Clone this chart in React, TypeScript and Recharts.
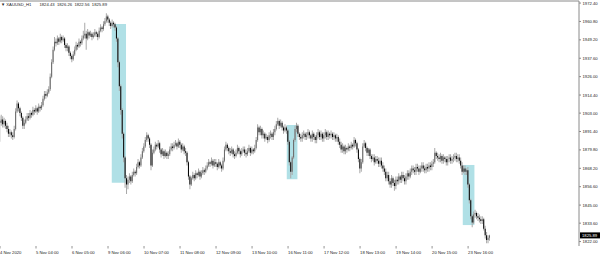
import { ComposedChart, Bar, XAxis, YAxis, Cell, ReferenceArea, ReferenceLine } from 'recharts';

const symbol = 'XAUUSD_H1';

// hourly closes, one per bar (open = previous close)
const firstOpen = 1898;
const closes = [
  1897, 1899, 1896, 1898, 1895, 1893, 1890, 1891, 1889, 1888,
  1893, 1904, 1909, 1906, 1903, 1900, 1895, 1897, 1899, 1901,
  1900, 1903, 1902, 1905, 1904, 1906, 1904, 1907, 1906, 1908,
  1912, 1915, 1914, 1916, 1918, 1926, 1935, 1943, 1948, 1947,
  1950, 1948, 1951, 1949, 1950, 1946, 1944, 1945, 1941, 1939,
  1937, 1940, 1943, 1946, 1945, 1948, 1947, 1950, 1952, 1953,
  1950, 1954, 1952, 1953, 1951, 1952, 1954, 1953, 1951, 1955,
  1957, 1956, 1959, 1961, 1964, 1962, 1960, 1958, 1960, 1959,
  1957, 1950, 1935, 1920, 1905, 1890, 1875, 1862, 1858, 1861,
  1863, 1860, 1864, 1866, 1865, 1869, 1872, 1870, 1875, 1879,
  1882, 1886, 1889, 1887, 1883, 1870, 1878, 1880, 1883, 1882,
  1884, 1880, 1877, 1879, 1876, 1878, 1876, 1877, 1880, 1882,
  1881, 1883, 1884, 1882, 1885, 1883, 1880, 1882, 1879, 1878,
  1872, 1863, 1858, 1862, 1864, 1862, 1865, 1864, 1866, 1863,
  1865, 1867, 1866, 1868, 1870, 1872, 1871, 1873, 1870, 1872,
  1871, 1869, 1872, 1870, 1868, 1873, 1880, 1883, 1881, 1879,
  1878, 1880, 1877, 1876, 1878, 1881, 1879, 1877, 1879, 1880,
  1878, 1877, 1879, 1881, 1878, 1880, 1879, 1881, 1886, 1894,
  1891, 1893, 1889, 1890, 1887, 1888, 1886, 1889, 1890, 1888,
  1891, 1893, 1896, 1898, 1895, 1897, 1894, 1892, 1894, 1892,
  1885, 1872, 1866, 1875, 1886, 1893, 1895, 1890, 1888, 1887,
  1889, 1890, 1888, 1889, 1891, 1889, 1887, 1890, 1888, 1886,
  1889, 1891, 1888, 1890, 1887, 1889, 1891, 1888, 1890, 1889,
  1890, 1888, 1889, 1887, 1888, 1885, 1883, 1880, 1882, 1879,
  1881, 1880, 1882, 1881, 1883, 1882, 1886, 1884, 1880, 1874,
  1868, 1872, 1882, 1884, 1881, 1878, 1880, 1876, 1874, 1875,
  1872, 1874, 1873, 1871, 1873, 1870, 1868, 1866, 1862, 1864,
  1860, 1858, 1862, 1859, 1857, 1861, 1860, 1863, 1861, 1864,
  1862, 1860, 1863, 1865, 1863, 1866, 1868, 1867, 1866, 1869,
  1868, 1866, 1868, 1870, 1868, 1867, 1869, 1868, 1870, 1869,
  1871, 1872, 1878, 1876, 1875, 1874, 1876, 1873, 1875, 1874,
  1872, 1874, 1875, 1873, 1874, 1875, 1876, 1874, 1875, 1873,
  1870, 1866, 1868, 1866, 1867, 1858, 1848, 1838, 1834, 1839,
  1840, 1838, 1837, 1836, 1835, 1836, 1830, 1826, 1823, 1824.43,
  1825.89,
];

const highs = [
  1901, 1902, 1901, 1900, 1899, 1897, 1895, 1893, 1892, 1891,
  1895, 1906, 1911, 1910, 1907, 1904, 1901, 1899, 1901, 1903,
  1903, 1905, 1904, 1907, 1906, 1908, 1907, 1909, 1908, 1910,
  1914, 1917, 1917, 1918, 1920, 1928, 1937, 1945, 1951, 1950,
  1952, 1951, 1953, 1952, 1952, 1951, 1947, 1947, 1946, 1942,
  1940, 1942, 1945, 1948, 1947, 1950, 1949, 1952, 1955, 1960,
  1955, 1956, 1955, 1955, 1954, 1954, 1956, 1955, 1954, 1957,
  1959, 1958, 1961, 1963, 1966, 1965, 1963, 1961, 1962, 1961,
  1960, 1958, 1951, 1936, 1921, 1906, 1891, 1876, 1864, 1863,
  1865, 1864, 1866, 1868, 1867, 1871, 1874, 1873, 1877, 1881,
  1884, 1888, 1891, 1890, 1888, 1884, 1880, 1882, 1885, 1884,
  1886, 1885, 1881, 1881, 1880, 1880, 1879, 1879, 1882, 1884,
  1884, 1885, 1886, 1885, 1887, 1886, 1884, 1884, 1883, 1881,
  1879, 1873, 1864, 1863, 1866, 1865, 1867, 1866, 1868, 1867,
  1867, 1869, 1868, 1870, 1872, 1874, 1873, 1875, 1874, 1874,
  1874, 1872, 1874, 1873, 1871, 1875, 1882, 1885, 1884, 1882,
  1881, 1882, 1881, 1879, 1880, 1883, 1882, 1880, 1881, 1882,
  1882, 1880, 1881, 1883, 1882, 1882, 1881, 1883, 1888, 1896,
  1895, 1895, 1894, 1892, 1891, 1890, 1889, 1891, 1892, 1891,
  1893, 1895, 1898, 1900, 1899, 1899, 1898, 1895, 1896, 1895,
  1893, 1886, 1873, 1876, 1887, 1895, 1897, 1896, 1891, 1890,
  1891, 1892, 1891, 1891, 1893, 1892, 1890, 1892, 1891, 1889,
  1891, 1893, 1892, 1892, 1891, 1891, 1893, 1892, 1892, 1891,
  1892, 1891, 1891, 1890, 1890, 1889, 1887, 1885, 1884, 1883,
  1883, 1882, 1884, 1883, 1885, 1884, 1888, 1887, 1885, 1881,
  1875, 1874, 1884, 1886, 1885, 1882, 1881, 1881, 1877, 1877,
  1877, 1876, 1876, 1875, 1875, 1875, 1872, 1870, 1868, 1866,
  1866, 1862, 1864, 1863, 1861, 1863, 1863, 1865, 1864, 1866,
  1866, 1864, 1865, 1867, 1867, 1868, 1870, 1870, 1869, 1871,
  1871, 1870, 1870, 1872, 1872, 1870, 1871, 1871, 1872, 1872,
  1873, 1874, 1881, 1879, 1878, 1877, 1878, 1877, 1877, 1876,
  1876, 1876, 1877, 1877, 1876, 1877, 1878, 1878, 1877, 1877,
  1875, 1872, 1870, 1870, 1868, 1869, 1859, 1849, 1839, 1841,
  1842, 1841, 1840, 1839, 1838, 1838, 1837, 1832, 1828, 1826,
  1826.26,
];

const lows = [
  1885, 1895, 1894, 1894, 1893, 1891, 1888, 1888, 1887, 1886,
  1887, 1892, 1903, 1904, 1901, 1898, 1893, 1893, 1896, 1898,
  1898, 1899, 1900, 1901, 1902, 1903, 1902, 1903, 1904, 1905,
  1907, 1911, 1912, 1913, 1915, 1917, 1925, 1934, 1942, 1945,
  1946, 1946, 1947, 1947, 1948, 1944, 1942, 1942, 1939, 1937,
  1935, 1936, 1939, 1942, 1943, 1944, 1945, 1946, 1949, 1950,
  1943, 1949, 1950, 1951, 1949, 1950, 1951, 1951, 1949, 1950,
  1954, 1954, 1955, 1958, 1960, 1960, 1958, 1956, 1957, 1957,
  1955, 1948, 1932, 1917, 1902, 1887, 1872, 1856, 1852, 1855,
  1859, 1858, 1859, 1863, 1863, 1864, 1868, 1868, 1869, 1874,
  1878, 1881, 1885, 1885, 1881, 1867, 1869, 1877, 1879, 1880,
  1881, 1878, 1875, 1876, 1874, 1875, 1874, 1874, 1876, 1879,
  1879, 1880, 1882, 1880, 1881, 1881, 1878, 1879, 1877, 1876,
  1870, 1861, 1855, 1857, 1861, 1860, 1861, 1862, 1863, 1861,
  1862, 1864, 1864, 1865, 1867, 1869, 1869, 1870, 1868, 1869,
  1869, 1867, 1868, 1868, 1866, 1867, 1872, 1879, 1879, 1877,
  1876, 1877, 1875, 1874, 1875, 1877, 1877, 1875, 1876, 1878,
  1876, 1875, 1876, 1878, 1876, 1877, 1877, 1878, 1880, 1885,
  1889, 1889, 1887, 1887, 1885, 1886, 1884, 1885, 1887, 1886,
  1886, 1889, 1892, 1895, 1893, 1894, 1892, 1890, 1891, 1890,
  1883, 1870, 1862, 1864, 1874, 1885, 1891, 1888, 1886, 1885,
  1885, 1887, 1886, 1886, 1887, 1887, 1885, 1885, 1886, 1884,
  1884, 1887, 1886, 1886, 1885, 1885, 1887, 1886, 1886, 1887,
  1887, 1886, 1886, 1885, 1885, 1883, 1881, 1878, 1878, 1877,
  1877, 1878, 1879, 1879, 1880, 1880, 1881, 1882, 1878, 1872,
  1865, 1866, 1871, 1881, 1879, 1876, 1876, 1874, 1872, 1873,
  1870, 1871, 1871, 1869, 1869, 1868, 1866, 1864, 1860, 1860,
  1858, 1856, 1856, 1857, 1854, 1855, 1858, 1858, 1859, 1859,
  1860, 1858, 1858, 1861, 1861, 1862, 1864, 1865, 1864, 1864,
  1866, 1864, 1865, 1866, 1866, 1865, 1865, 1866, 1866, 1867,
  1867, 1869, 1871, 1874, 1873, 1872, 1872, 1871, 1871, 1872,
  1870, 1870, 1872, 1871, 1871, 1872, 1873, 1872, 1872, 1871,
  1868, 1864, 1865, 1864, 1864, 1856, 1846, 1836, 1831, 1833,
  1837, 1836, 1835, 1834, 1833, 1833, 1829, 1824, 1821, 1821,
  1822.56,
];

const timeLabels = [
  '4 Nov 2020', '5 Nov 04:00', '6 Nov 05:00', '9 Nov 06:00', '10 Nov 07:00',
  '11 Nov 08:00', '12 Nov 09:00', '13 Nov 10:00', '16 Nov 11:00', '17 Nov 12:00',
  '18 Nov 13:00', '19 Nov 14:00', '20 Nov 15:00', '23 Nov 16:00',
];
const timeLabelBars = [0, 25, 50, 75, 100, 125, 150, 175, 200, 225, 250, 275, 300, 325];

const priceTicks = [
  1972.4, 1960.8, 1949.2, 1937.6, 1926.0, 1914.4, 1903.0,
  1891.4, 1879.8, 1868.2, 1856.6, 1845.0, 1833.6, 1822.0,
];

// highlighted rectangles (bar index range, price range)
const zoneStart = [77.6, 199.1, 321.3];
const zoneEnd = [87.5, 206.5, 329.4];
const zoneTop = [1959.2, 1895.5, 1870.3];
const zoneBottom = [1859.1, 1861.3, 1832.4];

const visibleBars = 402;
const priceDomain = [1819.2, 1973.7];

const bars = closes.map((close, i) => {
  const open = i === 0 ? firstOpen : closes[i - 1];
  return {
    i,
    open,
    close,
    wick: [lows[i], highs[i]],
    body: [Math.min(open, close), Math.max(open, close)],
    up: close >= open,
  };
});

const last = bars[bars.length - 1];
const font = '"Liberation Sans", Arial, sans-serif';
const fs = 4.2;
const W = 600;
const H = 256;
const axisH = 10;
const axisTop = H - axisH;

const TimeTick = (props: any) => {
  const { x, index } = props;
  return (
    <g>
      <line x1={x} y1={axisTop} x2={x} y2={axisTop + 2.5} stroke="#777" strokeWidth={0.8} />
      <text x={x} y={axisTop + 8} fontSize={fs} fill="#222" fontFamily={font} textAnchor="start">
        {timeLabels[index]}
      </text>
    </g>
  );
};

const PriceLabel = (props: any) => {
  const { viewBox } = props;
  const x = viewBox.x + viewBox.width + 1;
  const y = viewBox.y;
  return (
    <g>
      <rect x={x} y={y - 3} width={21} height={6} fill="#000" />
      <text x={x + 2} y={y} dy="0.35em" fontSize={fs} fill="#fff" fontFamily={font}>
        {last.close.toFixed(2)}
      </text>
    </g>
  );
};

export default function App() {
  return (
    <div style={{ position: 'absolute', left: 0, top: 0, width: W, height: H, background: '#fff', fontFamily: font }}>
      <ComposedChart width={W} height={H} data={bars} margin={{ top: 1, right: 0, bottom: 0, left: 0 }}>
        <XAxis
          xAxisId="t"
          dataKey="i"
          type="number"
          domain={[0, visibleBars]}
          ticks={timeLabelBars}
          interval={0}
          height={axisH}
          tickSize={0}
          tickMargin={0}
          axisLine={{ stroke: '#8a8a8a' }}
          tickLine={false}
          tick={(p: any) => <TimeTick {...p} />}
          allowDataOverflow
        />
        <XAxis xAxisId="b" dataKey="i" type="number" domain={[0, visibleBars]} hide allowDataOverflow />
        <YAxis
          orientation="right"
          width={21}
          domain={priceDomain}
          ticks={priceTicks}
          interval={0}
          allowDataOverflow
          tickSize={2}
          tickMargin={1.5}
          axisLine={{ stroke: '#8a8a8a' }}
          tickLine={{ stroke: '#8a8a8a' }}
          tick={{ fontSize: fs, fill: '#222', fontFamily: font }}
          tickFormatter={(v: number) => v.toFixed(2)}
        />
        {zoneStart.map((s, k) => (
          <ReferenceArea
            key={k}
            xAxisId="t"
            x1={s}
            x2={zoneEnd[k]}
            y1={zoneBottom[k]}
            y2={zoneTop[k]}
            fill="#b0e0e6"
            fillOpacity={1}
            stroke="none"
          />
        ))}
        <ReferenceLine xAxisId="t" y={priceDomain[1]} stroke="#8a8a8a" />
        <Bar xAxisId="t" dataKey="wick" barSize={1} isAnimationActive={false} fill="#a8a8a8" />
        <Bar xAxisId="b" dataKey="body" barSize={1} isAnimationActive={false} minPointSize={1}>
          {bars.map((b) => (
            <Cell key={b.i} fill={b.up ? '#6a6a6a' : '#000'} />
          ))}
        </Bar>
        <ReferenceLine xAxisId="t" y={last.close} stroke="none" label={(p: any) => <PriceLabel {...p} />} />
      </ComposedChart>
      <div
        style={{
          position: 'absolute',
          left: 1,
          top: 2,
          fontSize: fs,
          lineHeight: `${fs + 1}px`,
          color: '#222',
          whiteSpace: 'pre',
        }}
      >
        {'\u25BC ' + symbol}
        <span style={{ marginLeft: 8 }}>
          {[last.open, highs[highs.length - 1], lows[lows.length - 1], last.close].map((v) => v.toFixed(2)).join('  ')}
        </span>
      </div>
    </div>
  );
}
